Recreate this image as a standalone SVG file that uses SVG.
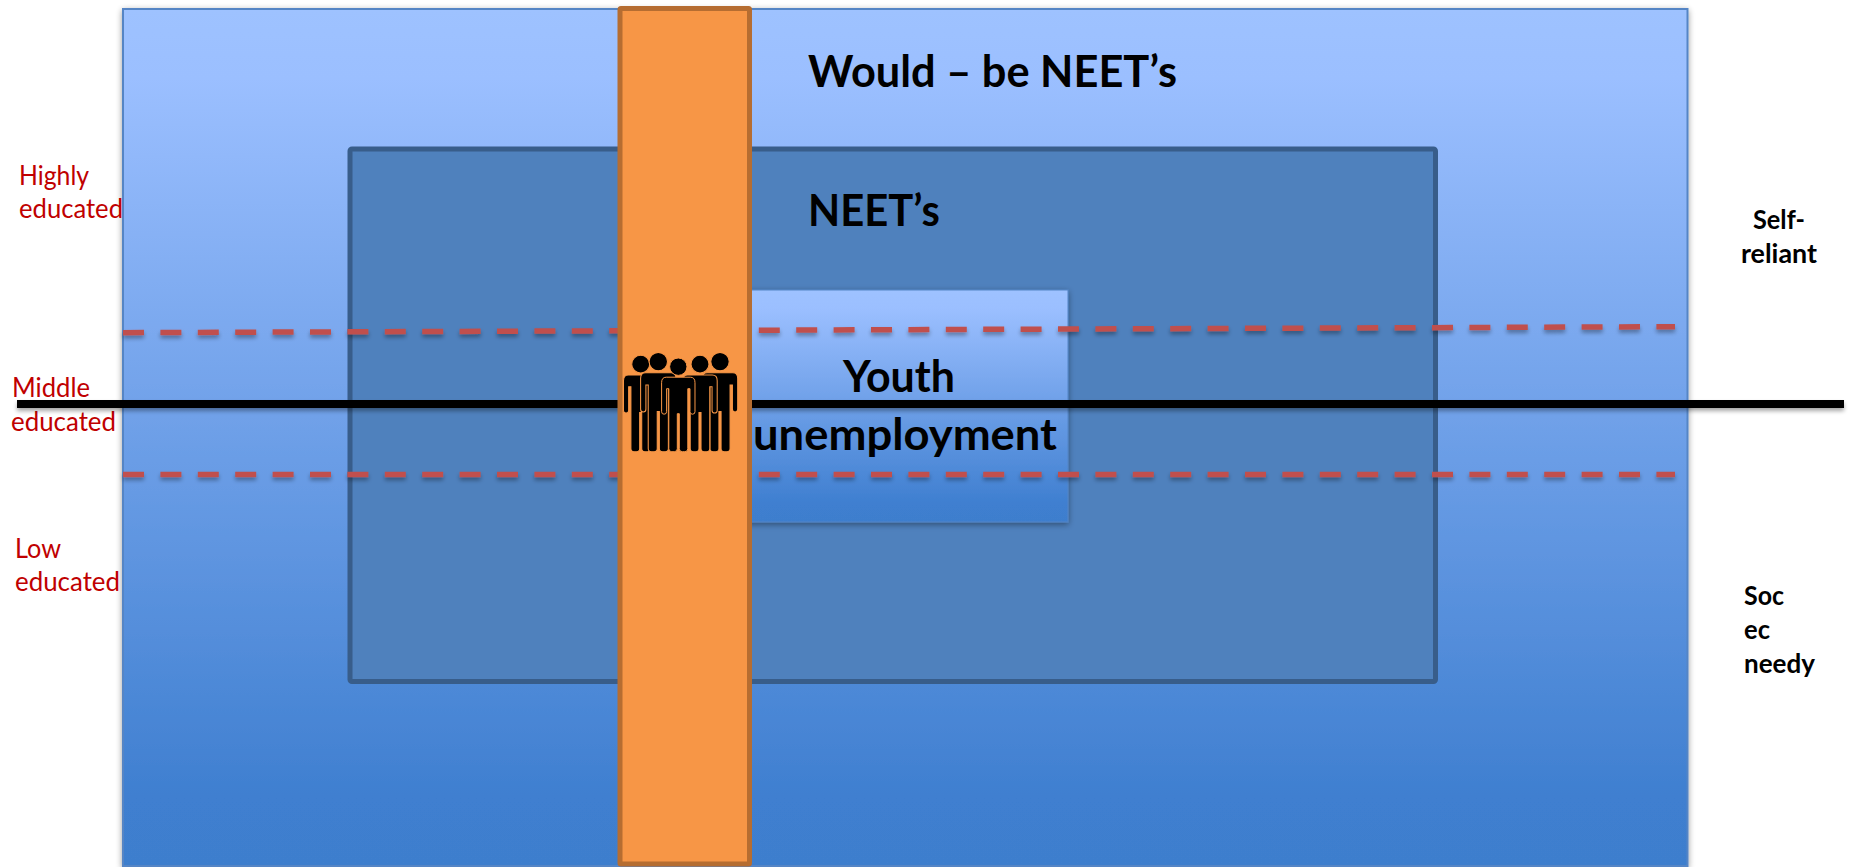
<svg xmlns="http://www.w3.org/2000/svg" width="1849" height="867" viewBox="0 0 1849 867">
<style>
.t{font-family:Lato,"Liberation Sans",sans-serif}
.big{font-size:43px;font-weight:700;fill:#000}
.red{font-size:27px;fill:#c00000}
.blk{font-size:27px;font-weight:700;fill:#000}
.dash{fill:none;stroke:#c0504d;stroke-width:5.5;stroke-dasharray:21 16.4}
.p{fill:#000;stroke:#f79646;stroke-width:1}
</style>
<defs>
<linearGradient id="g" x1="0" y1="0" x2="0" y2="1">
<stop offset="0" stop-color="#9ec2ff"/>
<stop offset="0.08" stop-color="#9bbfff"/>
<stop offset="0.92" stop-color="#3f7fd0"/>
<stop offset="1" stop-color="#3e7ecd"/>
</linearGradient>
<filter id="s" x="-5%" y="-5%" width="110%" height="110%"><feGaussianBlur in="SourceAlpha" stdDeviation="3"/><feOffset dx="0" dy="2"/><feComponentTransfer><feFuncA type="linear" slope="0.4"/></feComponentTransfer><feMerge><feMergeNode/><feMergeNode in="SourceGraphic"/></feMerge></filter>
<filter id="l" filterUnits="userSpaceOnUse" x="0" y="300" width="1849" height="200"><feGaussianBlur in="SourceAlpha" stdDeviation="2"/><feOffset dx="0" dy="3"/><feComponentTransfer><feFuncA type="linear" slope="0.35"/></feComponentTransfer><feMerge><feMergeNode/><feMergeNode in="SourceGraphic"/></feMerge></filter>
<g id="person">
<circle cx="0" cy="-85" r="8.7"/>
<path d="M-12-74.5H12Q16.7-74.5 16.7-69V-40A2.5 2.5 0 0 1 11.7-40V-63H9.5V-3A3 3 0 0 1 6.5 0H4A3 3 0 0 1 1-3V-38H-1V-3A3 3 0 0 1-4 0H-6.5A3 3 0 0 1-9.5-3V-63H-11.7V-40A2.5 2.5 0 0 1-16.7-40V-69Q-16.7-74.5-12-74.5Z"/>
</g>
</defs>
<g id="would-be-neets">
<rect x="123" y="9" width="1564.5" height="857" fill="url(#g)" stroke="#5585c5" stroke-width="2" filter="url(#s)"/>
<text class="t big" x="808" y="87" textLength="369" lengthAdjust="spacingAndGlyphs">Would – be NEET’s</text>
</g>
<g id="neets">
<rect x="350" y="149" width="1085.5" height="532.5" rx="2" fill="#4f81bd" stroke="#385d8a" stroke-width="5"/>
<text class="t big" x="808" y="226" textLength="132" lengthAdjust="spacingAndGlyphs">NEET’s</text>
</g>
<g id="youth-unemployment">
<rect x="742" y="290" width="326" height="232" fill="url(#g)" stroke="#5585c5" stroke-width="1" filter="url(#s)"/>
<text class="t big" x="843" y="391.5" textLength="112" lengthAdjust="spacingAndGlyphs">Youth</text>
<text class="t big" x="753" y="450" textLength="304" lengthAdjust="spacingAndGlyphs">unemployment</text>
</g>
<g id="labels-left">
<text class="t red" x="19" y="185" textLength="70" lengthAdjust="spacingAndGlyphs">Highly</text>
<text class="t red" x="19" y="218" textLength="104" lengthAdjust="spacingAndGlyphs">educated</text>
<text class="t red" x="12" y="397" textLength="78" lengthAdjust="spacingAndGlyphs">Middle</text>
<text class="t red" x="11" y="431" textLength="105" lengthAdjust="spacingAndGlyphs">educated</text>
<text class="t red" x="15" y="558" textLength="46" lengthAdjust="spacingAndGlyphs">Low</text>
<text class="t red" x="15" y="591" textLength="105" lengthAdjust="spacingAndGlyphs">educated</text>
</g>
<g id="labels-right">
<text class="t blk" x="1753" y="229" textLength="52" lengthAdjust="spacingAndGlyphs">Self-</text>
<text class="t blk" x="1741" y="263" textLength="76" lengthAdjust="spacingAndGlyphs">reliant</text>
<text class="t blk" x="1744" y="605" textLength="40" lengthAdjust="spacingAndGlyphs">Soc</text>
<text class="t blk" x="1744" y="639" textLength="26" lengthAdjust="spacingAndGlyphs">ec</text>
<text class="t blk" x="1744" y="673" textLength="71" lengthAdjust="spacingAndGlyphs">needy</text>
</g>
<g id="connectors">
<path class="dash" d="M123 332.7L1675 326.7" filter="url(#l)"/>
<path class="dash" d="M123 474.5H1675" filter="url(#l)"/>
<path d="M17 404H1844" fill="none" stroke="#000" stroke-width="8" filter="url(#l)"/>
</g>
<g id="orange-bar">
<rect x="620" y="8.5" width="129.5" height="855.5" rx="1" fill="#f79646" stroke="#b66d31" stroke-width="5"/>
</g>
<g id="people" class="p">
<use href="#person" transform="translate(640.7 451.7) scale(1.03)"/>
<use href="#person" transform="translate(720 451.7) scale(1.06)"/>
<use href="#person" transform="translate(658.3 451.7) scale(1.06)"/>
<use href="#person" transform="translate(700 451.7) scale(1.03)"/>
<use href="#person" transform="translate(678.3 451.7)"/>
</g>
</svg>
